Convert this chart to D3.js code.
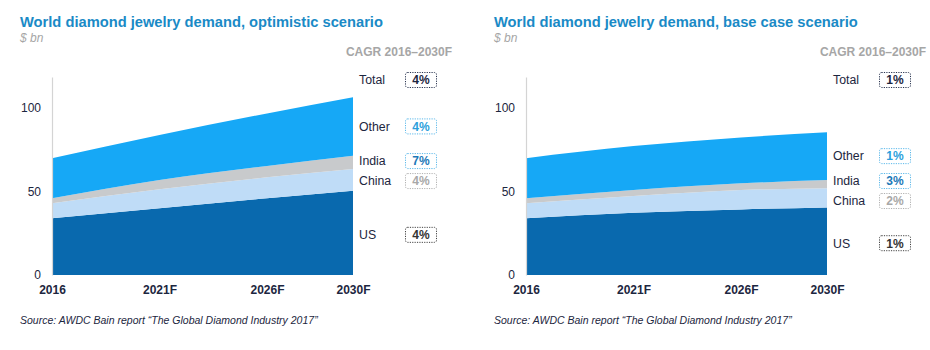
<!DOCTYPE html>
<html>
<head>
    <meta charset="utf-8">
    <title>World diamond jewelry demand</title>
    <script src="https://cdnjs.cloudflare.com/ajax/libs/d3/7.8.5/d3.min.js"></script>
    <style>
        html, body {
            margin: 0;
            padding: 0;
            background: #ffffff;
            font-family: Arial, 'Liberation Sans', Helvetica, sans-serif;
        }
        #chart svg {
            display: block;
        }
    </style>
</head>
<body>
    <div id="chart"></div>
    <script>
        // data ($ bn)
        const years = [2016, 2021, 2026, 2030];
        const yearLabels = ['2016', '2021F', '2026F', '2030F'];
        const regions = ['US', 'China', 'India', 'Other'];

        const optUS = [34, 40, 46, 50.5];
        const optChina = [9, 11.3, 12.5, 13];
        const optIndia = [3, 5.6, 6.8, 8];
        const optOther = [24, 27, 31.5, 35];
        const optCagr = { Total: '4%', Other: '4%', India: '7%', China: '4%', US: '4%' };

        const baseUS = [34, 37.3, 39.3, 40.5];
        const baseChina = [9, 10, 11.6, 11.4];
        const baseIndia = [3, 3.6, 4, 5];
        const baseOther = [24, 26.3, 27.5, 28.6];
        const baseCagr = { Total: '1%', Other: '1%', India: '3%', China: '2%', US: '1%' };

        const yTicks = [0, 50, 100];

        const colors = { US: '#0969ae', China: '#bfdcf7', India: '#c8cacc', Other: '#16a8f6' };
        const boxStyle = {
            Total: { stroke: '#2a3550', text: '#1c2640' },
            Other: { stroke: '#5ab8ea', text: '#2c9fdc' },
            India: { stroke: '#5ab8ea', text: '#1c78b8' },
            China: { stroke: '#b0b0b0', text: '#a8a8a8' },
            US: { stroke: '#444', text: '#333' }
        };

        const svg = d3.select('#chart')
            .append('svg')
            .attr('width', 930)
            .attr('height', 350);

        function makeRows(us, china, india, other) {
            return years.map((y, i) => ({
                year: y, US: us[i], China: china[i], India: india[i], Other: other[i]
            }));
        }

        function drawPanel(offsetX, title, rows, cagr) {
            const g = svg.append('g').attr('transform', `translate(${offsetX},0)`);

            g.append('text')
                .attr('x', 20).attr('y', 27)
                .attr('fill', '#1a8ac6')
                .style('font-size', '14.7px')
                .style('font-weight', 'bold')
                .text(title);

            g.append('text')
                .attr('x', 20).attr('y', 42)
                .attr('fill', '#a6a6a6')
                .style('font-size', '12px')
                .style('font-style', 'italic')
                .text('$ bn');

            g.append('text')
                .attr('x', 452).attr('y', 56)
                .attr('text-anchor', 'end')
                .attr('fill', '#a6a6a6')
                .style('font-size', '12px')
                .style('font-weight', 'bold')
                .text('CAGR 2016\u20132030F');

            const x = d3.scaleLinear().domain([2016, 2030]).range([52, 353]);
            const y = d3.scaleLinear().domain([0, 118.6]).range([275, 77]);

            const series = d3.stack().keys(regions)(rows);

            const area = d3.area()
                .x(d => x(d.data.year))
                .y0(d => y(d[0]))
                .y1(d => y(d[1]))
                .curve(d3.curveMonotoneX);

            g.append('g')
                .selectAll('path')
                .data(series)
                .enter()
                .append('path')
                .attr('fill', d => colors[d.key])
                .attr('d', area);

            // y axis: plain gray line, no ticks
            const yAxis = d3.axisLeft(y).tickValues(yTicks).tickSize(0).tickPadding(11);
            const ya = g.append('g')
                .attr('transform', 'translate(52,0)')
                .call(yAxis);
            ya.select('.domain').attr('stroke', '#d4d4d4').attr('stroke-width', 1.2);
            ya.selectAll('text')
                .attr('fill', '#1c2640')
                .style('font-size', '12px')
                .style('font-family', 'Arial, Liberation Sans, sans-serif');

            const xAxis = d3.axisBottom(x)
                .tickValues(years)
                .tickFormat((d, i) => yearLabels[i])
                .tickSize(0)
                .tickPadding(10);
            const xa = g.append('g')
                .attr('transform', 'translate(0,275)')
                .call(xAxis);
            xa.select('.domain').remove();
            xa.selectAll('text')
                .attr('fill', '#1c2640')
                .style('font-size', '12px')
                .style('font-weight', 'bold')
                .style('font-family', 'Arial, Liberation Sans, sans-serif');

            // labels at band middles of the last year
            const last = series.map(s => ({ key: s.key, mid: (s[s.length - 1][0] + s[s.length - 1][1]) / 2 }));
            const labels = [{ key: 'Total', py: 80 }].concat(last.map(d => ({ key: d.key, py: y(d.mid) })));

            // nudge India / China apart
            const ind = labels.find(d => d.key === 'India');
            const chi = labels.find(d => d.key === 'China');
            if (chi.py - ind.py < 20) {
                const m = (chi.py + ind.py) / 2;
                ind.py = m - 10;
                chi.py = m + 10;
            }
            labels.find(d => d.key === 'US').py += 2;

            const lg = g.append('g')
                .selectAll('g')
                .data(labels)
                .enter()
                .append('g')
                .attr('transform', d => `translate(0,${d.py})`);

            lg.append('text')
                .attr('x', 359)
                .attr('dy', '0.35em')
                .attr('fill', '#1c2640')
                .style('font-size', '12.3px')
                .text(d => d.key);

            lg.append('rect')
                .attr('x', 405.5).attr('y', -7.5)
                .attr('width', 31).attr('height', 15)
                .attr('rx', 2)
                .attr('fill', 'none')
                .attr('stroke', d => boxStyle[d.key].stroke)
                .attr('stroke-width', 1)
                .attr('stroke-dasharray', '1.2,1.2');

            lg.append('text')
                .attr('x', 421)
                .attr('dy', '0.36em')
                .attr('text-anchor', 'middle')
                .attr('fill', d => boxStyle[d.key].text)
                .style('font-size', '12px')
                .style('font-weight', 'bold')
                .text(d => cagr[d.key]);

            g.append('text')
                .attr('x', 20).attr('y', 324)
                .attr('fill', '#1c2640')
                .style('font-size', '10.5px')
                .style('font-style', 'italic')
                .text('Source: AWDC Bain report \u201cThe Global Diamond Industry 2017\u201d');
        }

        drawPanel(0, 'World diamond jewelry demand, optimistic scenario',
            makeRows(optUS, optChina, optIndia, optOther), optCagr);
        drawPanel(474, 'World diamond jewelry demand, base case scenario',
            makeRows(baseUS, baseChina, baseIndia, baseOther), baseCagr);
    </script>
</body>
</html>
